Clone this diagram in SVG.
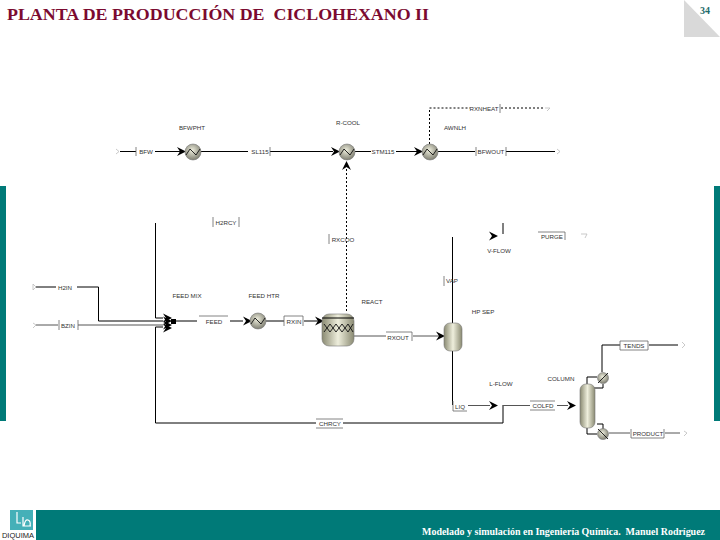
<svg xmlns="http://www.w3.org/2000/svg" width="720" height="540" viewBox="0 0 720 540">
<style>
.l{font:6.2px "Liberation Sans",sans-serif;fill:#333;text-anchor:middle}
.c{fill:none;stroke:#000;stroke-width:1}
.g{fill:none;stroke:#555;stroke-width:1}
.d{fill:none;stroke:#000;stroke-width:1;stroke-dasharray:2 2}
.t{fill:none;stroke:#666;stroke-width:.8}
.o{fill:none;stroke:#bbb;stroke-width:.8}
.hx{fill:url(#rg);stroke:#777;stroke-width:.6}
.z{fill:none;stroke:#111;stroke-width:.9}
.mk{fill:#000}
</style>
<defs>
<radialGradient id="rg" cx=".45" cy=".4" r=".65"><stop offset="0" stop-color="#eeeedd"/><stop offset="1" stop-color="#77776a"/></radialGradient>
<linearGradient id="lg" x1="0" x2="1" y1="0" y2="0"><stop offset="0" stop-color="#8a8a72"/><stop offset=".5" stop-color="#eeeedc"/><stop offset="1" stop-color="#8a8a72"/></linearGradient>
<path id="ah" d="M-9,-4.5 L0,0 L-9,4.5 L-6,0 Z"/>
</defs>
<rect id="side-left" x="0" y="186" width="6" height="235" fill="#007a78"/>
<rect id="side-right" x="714" y="186" width="6" height="235" fill="#007a78"/>
<rect id="band" x="36" y="510" width="684" height="30" fill="#007a78"/>
<path id="corner" d="M684,0 L720,37 L684,37 Z" fill="#d9d9d9"/>
<text id="title" x="7" y="20" font-family="Liberation Serif,serif" font-weight="bold" font-size="15.9" fill="#7b0a30" xml:space="preserve" textLength="422" lengthAdjust="spacingAndGlyphs">PLANTA DE PRODUCCIÓN DE  CICLOHEXANO II</text>
<text id="page" x="700" y="14" font-family="Liberation Serif,serif" font-weight="bold" font-size="10" fill="#1f6b6b">34</text>
<text id="footer" x="422" y="535" font-family="Liberation Serif,serif" font-weight="bold" font-size="9.8" fill="#fff" xml:space="preserve" textLength="283" lengthAdjust="spacingAndGlyphs">Modelado y simulación en Ingeniería Química.  Manuel Rodríguez</text>
<g id="logo">
<rect x="10" y="510" width="23" height="20" fill="#45b0b8"/>
<path d="M17,512 V523 H21 M23,517 V526 H31 M24,526 Q25,519 28,520 Q31,521 30,526" fill="none" stroke="#fff" stroke-width="1.2"/>
<text x="18" y="537.5" font-family="Liberation Sans,sans-serif" font-size="7.5" fill="#222" text-anchor="middle">DIQUIMA</text>
</g>
<g id="connectors">
<path class="c" d="M120,151.5 H136 M155,151.5 H180 M201,151.5 H248 M270,151.5 H333 M355,151.5 H371 M396,151.5 H418 M438,151.5 H475 M506,151.5 H555"/>
<path class="t" d="M136,147 V156 M270,147 V156 M476,147 V156 M506,147 V156 M213,217 V227 M239,217 V227 M329,234 V244 M444,276 V286"/>
<path class="d" d="M346.5,165 V312"/>
<path class="d" d="M429.5,144 V108 H470 M501,108 H545"/>
<path class="t" d="M500,104 V113"/>
<path class="c" d="M155.5,223 V318 H163 M155.5,327 H163 M155.5,327 V423 H316 M343,423 H503 V405"/>
<path class="c" d="M36,287 H56 M77,287 H98.5 V321 H163" stroke-width="1.2"/>
<path class="g" d="M36,325 H58 M78,325 H163"/>
<path class="t" d="M59,320 V330 M78,320 V330"/>
<path class="c" d="M176,321 H197 M230,321 H243 M266,321 H284 M304,321 H320" stroke-width="1.2"/>
<path class="t" d="M199,316 H228 M284,316 H303 V326 M284,316 V326"/>
<path class="g" d="M354,336 H386 M413,336 H442"/>
<path class="t" d="M386,332 H412 V341"/>
<path class="c" d="M452.5,237 V323 M452.5,351 V405"/>
<path class="t" d="M453,401 V411 H467"/>
<path class="g" d="M468,405.5 H490 M503,405.5 H530 M557,405.5 H568"/>
<path class="t" d="M530,401 H555 M530,410 H555"/>
<path class="c" d="M503,223 V234"/>
<path class="t" d="M538,232 H565 V240"/>
<path class="c" d="M587,384 V377 H597 M594,388 H603 V384 M602,372 V345 H620 M649,345 H678"/>
<path class="t" d="M620,341 H648 V350 H620 Z"/>
<path class="c" d="M587,428 V434 H597 M597,424 H603 V429"/>
<path class="g" d="M609,433 H630 M665,433 H680"/>
<path class="t" d="M631,429 V438 H664 V429"/>
<path class="t" d="M316,419 H343 M316,428 H343"/>
<path class="o" d="M116,149 L119,151.5 L116,154 M557,149 L560,151.5 L557,154 M545,108 H550 L547,111 M33,284 L36,287 L33,290 Z M33,323 L36,325 L33,328 M581,234 H587 L585,238 M682,342 L685,345 L682,348 M684,431 L687,433 L684,436"/>
<g class="mk">
<use href="#ah" x="186" y="151.5"/>
<use href="#ah" x="340" y="151.5"/>
<use href="#ah" x="423" y="151.5"/>
<use href="#ah" transform="translate(346.5,161) rotate(-90)"/>
<use href="#ah" x="172" y="318"/>
<use href="#ah" x="172" y="321"/>
<use href="#ah" x="172" y="325"/>
<use href="#ah" x="172" y="328"/>
<rect x="171" y="319" width="5" height="5"/>
<use href="#ah" x="252" y="321"/>
<use href="#ah" x="324" y="321"/>
<use href="#ah" x="445" y="336"/>
<use href="#ah" x="498" y="405.5"/>
<use href="#ah" x="576" y="405.5"/>
<use href="#ah" x="498" y="236"/>
</g>
</g>
<g id="BFWPHT"><circle class="hx" cx="193" cy="152" r="8"/><path class="z" d="M186,155 L190,149 L196,155 L200,149"/><text class="l" x="192" y="130">BFWPHT</text></g>
<g id="R-COOL"><circle class="hx" cx="347" cy="152" r="8"/><path class="z" d="M340,155 L344,149 L350,155 L354,149"/><text class="l" x="348" y="125">R-COOL</text></g>
<g id="AWNLH"><circle class="hx" cx="430" cy="152" r="8"/><path class="z" d="M423,155 L427,149 L433,155 L437,149"/><text class="l" x="455" y="130">AWNLH</text></g>
<g id="FEED-MIX"><text class="l" x="187" y="298">FEED MIX</text></g>
<g id="FEED-HTR"><circle class="hx" cx="258" cy="321" r="8"/><path class="z" d="M251,324 L255,318 L261,324 L265,318"/><text class="l" x="264" y="298">FEED HTR</text></g>
<g id="REACT"><rect x="322" y="314" width="32" height="32" rx="7" fill="url(#lg)" stroke="#777" stroke-width=".6"/><path class="c" d="M322,318 H354"/><path class="z" d="M324,324 L330,332 L336,324 L342,332 L348,324 L353,332 M324,332 L330,324 L336,332 L342,324 L348,332 L353,324"/><text class="l" x="372" y="304">REACT</text></g>
<g id="HP-SEP"><rect x="444" y="323" width="18" height="28" rx="6" fill="url(#lg)" stroke="#777" stroke-width=".6"/><text class="l" x="483" y="314">HP SEP</text></g>
<g id="L-FLOW"><text class="l" x="501" y="386">L-FLOW</text></g>
<g id="V-FLOW"><text class="l" x="499" y="253">V-FLOW</text></g>
<g id="COLUMN"><rect x="580" y="384" width="15" height="44" rx="6" fill="url(#lg)" stroke="#777" stroke-width=".6"/><text class="l" x="561" y="381">COLUMN</text>
<circle class="hx" cx="603" cy="378" r="5.5"/><path class="z" d="M598,383 L608,373"/><circle class="hx" cx="603" cy="434" r="5.5"/><path class="z" d="M598,429 L608,439"/></g>
<g id="stream-labels">
<text class="l" x="146" y="154">BFW</text>
<text class="l" x="260" y="154">SL115</text>
<text class="l" x="383" y="154">STM115</text>
<text class="l" x="491" y="154">BFWOUT</text>
<text class="l" x="484" y="111">RXNHEAT</text>
<text class="l" x="226" y="225">H2RCY</text>
<text class="l" x="343" y="242">RXCOO</text>
<text class="l" x="552" y="239">PURGE</text>
<text class="l" x="452" y="283">VAP</text>
<text class="l" x="65" y="290">H2IN</text>
<text class="l" x="68" y="328">BZIN</text>
<text class="l" x="214" y="324">FEED</text>
<text class="l" x="294" y="324">RXIN</text>
<text class="l" x="398" y="340">RXOUT</text>
<text class="l" x="460" y="409">LIQ</text>
<text class="l" x="543" y="408">COLFD</text>
<text class="l" x="634" y="348">TENDS</text>
<text class="l" x="648" y="436">PRODUCT</text>
<text class="l" x="330" y="426">CHRCY</text>
</g>
</svg>
